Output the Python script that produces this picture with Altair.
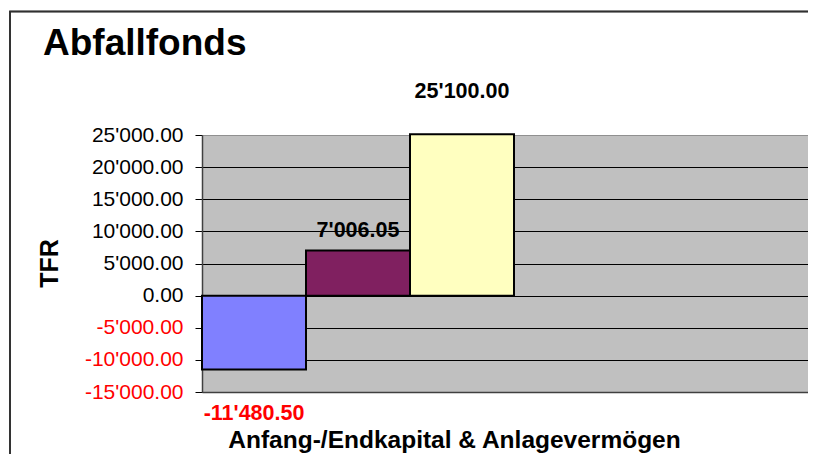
import altair as alt
import pandas as pd

# ---- data ----
title_text = "Abfallfonds"
series = ["Anfangskapital", "Endkapital", "Anlagevermögen"]
values = [-11480.50, 7006.05, 25100.00]
colors = ["#8080FF", "#802060", "#FFFFC0"]
y_ticks = [-15000, -10000, -5000, 0, 5000, 10000, 15000, 20000, 25000]

df = pd.DataFrame({
    "series": series,
    "value": values,
    "idx": list(range(len(series))),
})

W, H = 606, 257
FONT = "Liberation Sans"

fmt = ("replace(replace(format(datum.value, ',.2f'), regexp(',', 'g'), \"'\"), '\u2212', '-')")

base = alt.Chart(df).transform_calculate(
    start="datum.idx", end="datum.idx + 1", mid="datum.idx + 0.5", label=fmt
)

xscale = alt.Scale(domain=[0, W / 104.0], nice=False, zero=False)
yscale = alt.Scale(domain=[-15000, 25000], nice=False, zero=False)

bars = base.mark_bar(stroke="black", strokeWidth=2).encode(
    x=alt.X("start:Q", scale=xscale,
            axis=alt.Axis(title="Anfang-/Endkapital & Anlagevermögen", labels=False, ticks=False,
                          grid=False, domainColor="#404040", domainWidth=1.5,
                          titleFont=FONT, titleFontSize=24.5, titleFontWeight="bold",
                          titleColor="black", titleX=252, titleY=55, titleAnchor="middle",
                          titleAlign="center", titleBaseline="alphabetic")),
    x2="end:Q",
    y=alt.Y("value:Q", scale=yscale,
            axis=alt.Axis(title="TFR", values=y_ticks, tickCount=20, labelExpr=fmt, grid=True,
                          gridColor=alt.expr("datum.value == 25000 ? '#909090' : '#000000'"),
                          gridWidth=1, tickColor="black", tickSize=7,
                          labelPadding=12, labelFont=FONT, labelFontSize=21,
                          labelOverlap=False, labelBound=False,
                          labelColor=alt.expr("datum.value < 0 ? '#FF0000' : '#000000'"),
                          domainColor="#404040", domainWidth=1.5,
                          titleFont=FONT, titleFontSize=25, titleFontWeight="bold",
                          titleColor="black", titleAngle=270, titleX=-153, titleY=128,
                          titleAlign="center", titleBaseline="middle")),
    y2=alt.datum(0),
    color=alt.Color("series:N", scale=alt.Scale(domain=series, range=colors), legend=None),
)

def value_label(i, dy, color):
    return base.transform_filter(f"datum.idx == {i}").mark_text(
        font=FONT, fontSize=21.5, fontWeight="bold", color=color, dy=dy,
        align="center", baseline="middle"
    ).encode(
        x=alt.X("mid:Q", scale=xscale),
        y=alt.Y("value:Q", scale=yscale),
        text="label:N",
    )

labels = value_label(0, 45, "#FF0000") + value_label(1, -20, "black") + value_label(2, -42, "black")

frame = alt.Chart(df).mark_rect(fill=None, stroke="#303030", strokeWidth=1.5).encode(
    x=alt.value(-192), x2=alt.value(W + 60), y=alt.value(-123.5), y2=alt.value(H + 120)
)

title = alt.Chart(df).transform_filter("datum.idx == 0").mark_text(
    text=title_text, font=FONT, fontSize=37, fontWeight="bold", color="black",
    align="left", baseline="alphabetic"
).encode(x=alt.value(-159), y=alt.value(-80))

chart = alt.layer(bars, labels, frame, title).properties(
    width=W, height=H,
    autosize=alt.AutoSizeParams(type="none"),
    padding={"left": 194, "top": 127, "right": 0, "bottom": 62},
    background="white",
).configure_view(
    fill="#C0C0C0", stroke="transparent", strokeWidth=0
)

chart.save("out.html", embed_options={"renderer": "svg", "actions": False})
